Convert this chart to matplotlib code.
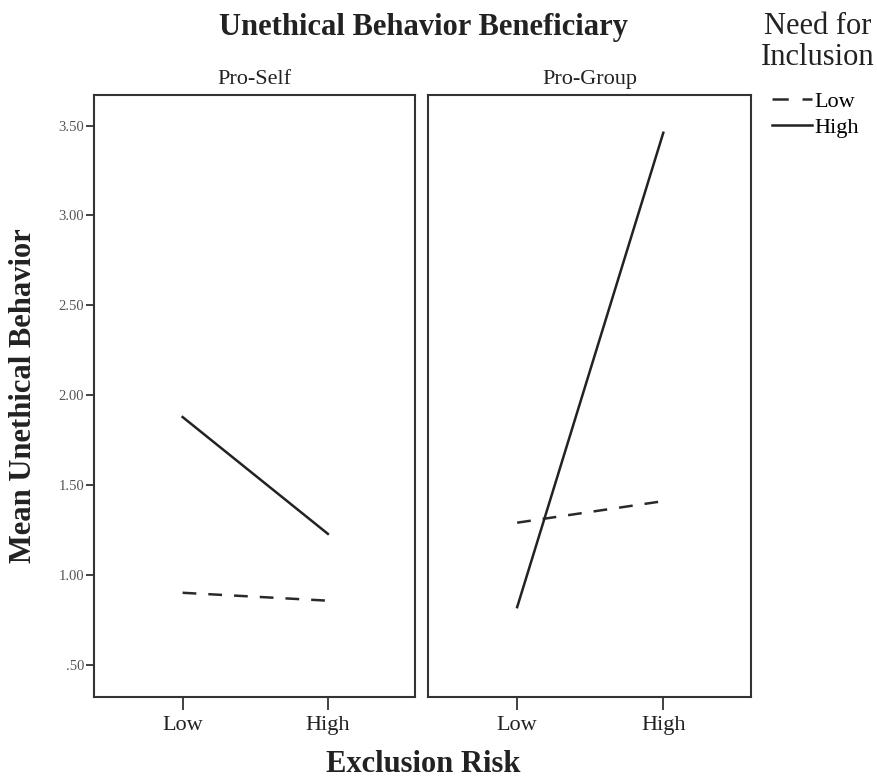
import matplotlib
matplotlib.use("Agg")
import matplotlib.pyplot as plt
from matplotlib.lines import Line2D

plt.rcParams['font.family'] = ['Liberation Serif', 'DejaVu Serif']

panels = ["Pro-Self", "Pro-Group"]
x_labels = ["Low", "High"]
low_nfi = {"Pro-Self": [0.90, 0.856], "Pro-Group": [1.29, 1.41]}
high_nfi = {"Pro-Self": [1.878, 1.228], "Pro-Group": [0.82, 3.46]}
y_ticks = [0.5, 1.0, 1.5, 2.0, 2.5, 3.0, 3.5]
y_tick_labels = [".50", "1.00", "1.50", "2.00", "2.50", "3.00", "3.50"]

fig = plt.figure(figsize=(8.77, 7.8), dpi=100)
edge = "#333333"
boxes = [(94/877, 415/877), (428/877, 751/877)]
bottom = 1 - 697/780
top = 1 - 95/780
dash = (0, (5.5, 4.8))
for i, (name, (l, r)) in enumerate(zip(panels, boxes)):
    ax = fig.add_axes([l, bottom, r - l, top - bottom])
    xs = range(len(x_labels))
    ax.plot(xs, low_nfi[name], color="#2a2a2a", lw=1.8, linestyle=dash)
    ax.plot(xs, high_nfi[name], color="#222222", lw=1.8)
    ax.set_xlim(-0.61, 1.6)
    ax.set_ylim(0.32, 3.67)
    ax.set_xticks(list(xs))
    ax.set_xticklabels(x_labels, fontsize=16, color="#222222")
    ax.tick_params(axis='x', length=9, width=1.3, color=edge, pad=5)
    if i == 0:
        ax.set_yticks(y_ticks)
        ax.set_yticklabels(y_tick_labels, fontsize=10.5, color="#555555")
        ax.tick_params(axis='y', length=6, width=1.3, color=edge, pad=1)
    else:
        ax.set_yticks([])
    for s in ax.spines.values():
        s.set_color(edge)
        s.set_linewidth(1.5)
    ax.set_title(name, fontsize=16, pad=8, color="#222222")

fig.text(423/877, 1 - 28/780, "Unethical Behavior Beneficiary", ha='center', va='center',
         fontsize=22, fontweight='bold', color="#222222")
fig.text(423/877, 1 - 765/780, "Exclusion Risk", ha='center', va='center',
         fontsize=22, fontweight='bold', color="#222222")
fig.text(24/877, (bottom + top) / 2, "Mean Unethical Behavior", ha='center', va='center',
         rotation=90, fontsize=22, fontweight='bold', color="#222222")
fig.text(818/877, 1 - 42/780, "Need for\nInclusion", ha='center', va='center',
         fontsize=22, color="#222222", linespacing=1.1)

handles = [Line2D([], [], color="#2a2a2a", lw=1.8, linestyle=(0, (6.5, 5.5))),
           Line2D([], [], color="#222222", lw=1.8)]
fig.legend(handles, ["Low", "High"], loc='upper left', bbox_to_anchor=(772/877, 1 - 91/780),
           frameon=False, fontsize=16, handlelength=1.8, handletextpad=0.1,
           labelspacing=0.25, borderpad=0, borderaxespad=0)

fig.savefig("out.png", dpi=100, facecolor='white')
